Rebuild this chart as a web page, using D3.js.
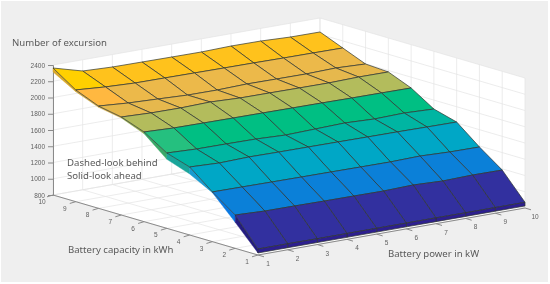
<!DOCTYPE html>
<html>
<head>
<meta charset="utf-8">
<script src="https://cdn.jsdelivr.net/npm/d3@7"></script>
<style>
html, body { margin: 0; padding: 0; background: #fff; }
svg { display: block; filter: blur(0.4px); }
text { font-family: "Noto Sans", sans-serif; }
.axistitle { fill: #5a5a5a; font-size: 9.6px; }
.ticktext { fill: #5f5f5f; font-size: 6.5px; font-family: "Liberation Sans", sans-serif; }
</style>
</head>
<body>
<div id="chart"></div>
<script>
const svgWidth = 550;
const svgHeight = 284;

const powerValues = [1, 2, 3, 4, 5, 6, 7, 8, 9, 10];
const capacityTicks = [1, 2, 3, 4, 5, 6, 7, 8, 9, 10];
const zTicks = [800, 1000, 1200, 1400, 1600, 1800, 2000, 2200, 2400];

// excursions per battery power, one list per battery capacity
const capacityRows = [1, 1, 2, 3, 4, 5, 6, 7, 8, 9, 10];
const zBase = [825, 825, 825, 825, 825, 825, 825, 825, 825, 825];
const zCap1 = [874, 874, 872, 872, 872, 872, 872, 870, 870, 870];
const zCap2 = [1210, 1195, 1193, 1189, 1187, 1184, 1194, 1179, 1188, 1185];
const zCap3 = [1412, 1409, 1406, 1403, 1401, 1398, 1396, 1404, 1390, 1387];
const zCap4 = [1637, 1622, 1632, 1628, 1626, 1624, 1621, 1619, 1615, 1612];
const zCap5 = [1727, 1712, 1710, 1706, 1691, 1701, 1711, 1696, 1705, 1690];
const zCap6 = [1904, 1889, 1886, 1883, 1881, 1878, 1876, 1872, 1870, 1867];
const zCap7 = [2006, 1992, 1989, 1998, 1983, 1981, 1978, 1976, 1984, 1982];
const zCap8 = [2059, 2032, 2017, 2001, 1999, 2009, 2006, 2004, 2013, 1998];
const zCap9 = [2175, 2148, 2132, 2130, 2127, 2124, 2122, 2118, 2116, 2113];
const zCap10 = [2363, 2262, 2247, 2244, 2241, 2239, 2248, 2245, 2230, 2228];
const zRows = [zBase, zCap1, zCap2, zCap3, zCap4, zCap5, zCap6, zCap7, zCap8, zCap9, zCap10];
// lower fold showing under the edge at power 1
const zFold = [825, 825, 1120, 1403, 1551, 1649, 1883, 1994, 2043, 2154, 2314];

const rowColors = ['#2d1f8f', '#32309f', '#0b80d8', '#00a7c6', '#00b5a2', '#00bf83', '#b3bc5c', '#e6b84d', '#ecb94a', '#ffc21c'];
const firstCellColors = ['#2d1f8f', '#32309f', '#0b80d8', '#00a7c6', '#00b5a2', '#25c07f', '#b3bc5c', '#e6b84d', '#ffb840', '#ffd000'];
const foldColors = ['#2d1f8f', '#241c80', '#0a78e0', '#1a9bd0', '#1aa59a', '#3aa868', '#8fa548', '#c9a23f', '#c9a23f', '#d9a92c'];

const svg = d3.select('#chart')
            .append('svg')
            .attr('width', svgWidth)
            .attr('height', svgHeight);

svg.append('rect')
    .attr('x', 1).attr('y', 1)
    .attr('width', 547).attr('height', 281)
    .attr('fill', '#efefef');

// oblique projection, one scale per screen contribution
const xFromPower = d3.scaleLinear().domain([1, 10]).range([258, 525]);
const xFromCap = d3.scaleLinear().domain([1, 10]).range([0, -205]);
const yFromPower = d3.scaleLinear().domain([1, 10]).range([255, 208]);
const yFromCap = d3.scaleLinear().domain([1, 10]).range([0, -60]);
const yFromZ = d3.scaleLinear().domain([800, 2400]).range([0, -130]);

function project(p, c, z) {
    return [xFromPower(p) + xFromCap(c), yFromPower(p) + yFromCap(c) + yFromZ(z)];
}

const line = d3.line();
const closed = pts => line(pts) + 'Z';

// floor and walls
const walls = svg.append('g');
walls.append('path')
    .attr('d', closed([project(1, 1, 800), project(10, 1, 800), project(10, 10, 800), project(1, 10, 800)]))
    .attr('fill', '#fff');
walls.append('path')
    .attr('d', closed([project(1, 10, 800), project(10, 10, 800), project(10, 10, 2400), project(1, 10, 2400)]))
    .attr('fill', '#fff');
walls.append('path')
    .attr('d', closed([project(10, 1, 800), project(10, 10, 800), project(10, 10, 2400), project(10, 1, 2400)]))
    .attr('fill', '#fff');

const gridLines = [];
powerValues.forEach(p => {
    gridLines.push([project(p, 1, 800), project(p, 10, 800), project(p, 10, 2400)]);
});
capacityTicks.forEach(c => {
    gridLines.push([project(1, c, 800), project(10, c, 800), project(10, c, 2400)]);
});
zTicks.forEach(z => {
    gridLines.push([project(1, 10, z), project(10, 10, z), project(10, 1, z)]);
});
walls.selectAll('path.grid').data(gridLines).enter().append('path')
    .attr('class', 'grid')
    .attr('d', d => line(d))
    .attr('fill', 'none')
    .attr('stroke', '#e4e4e4')
    .attr('stroke-width', 0.7);

// axes
const axisColor = '#8a8a8a';
const rulers = svg.append('g');
[[project(1, 1, 800), project(10, 1, 800)], [project(1, 1, 800), project(1, 10, 800)]].forEach(seg => {
    rulers.append('path').attr('d', line(seg)).attr('fill', 'none').attr('stroke', axisColor).attr('stroke-width', 1);
});

const zScale = d3.scaleLinear().domain([800, 2400]).range([project(1, 10, 800)[1], project(1, 10, 2400)[1]]);
const zAxis = svg.append('g')
    .attr('transform', `translate(${project(1, 10, 800)[0]},0)`)
    .call(d3.axisLeft(zScale).tickValues(zTicks).tickSize(5).tickPadding(3).tickFormat(d3.format('d')));
zAxis.select('.domain').attr('stroke', axisColor);
zAxis.selectAll('.tick line').attr('stroke', axisColor);
zAxis.selectAll('.tick text').attr('class', 'ticktext').attr('fill', null).attr('font-size', null).attr('font-family', null);

powerValues.forEach(p => {
    const [x, y] = project(p, 1, 800);
    rulers.append('path').attr('d', line([[x, y], [x + 6, y + 1.8]])).attr('stroke', axisColor).attr('fill', 'none');
    rulers.append('text').attr('class', 'ticktext').attr('x', x + 10).attr('y', y + 11).attr('text-anchor', 'middle').text(p);
});
capacityTicks.forEach(c => {
    const [x, y] = project(1, c, 800);
    rulers.append('path').attr('d', line([[x, y], [x - 6, y + 1.8]])).attr('stroke', axisColor).attr('fill', 'none');
    rulers.append('text').attr('class', 'ticktext').attr('x', x - 11).attr('y', y + 9).attr('text-anchor', 'middle').text(c);
});

// fold goes under the surface
const foldCells = d3.range(capacityRows.length - 2, -1, -1).map(r => ({
    r: r,
    pts: [
        project(1, capacityRows[r], zFold[r]),
        project(1, capacityRows[r + 1], zFold[r + 1]),
        project(1, capacityRows[r + 1], zRows[r + 1][0]),
        project(1, capacityRows[r], zRows[r][0])
    ]
}));
svg.append('g').selectAll('path').data(foldCells).enter().append('path')
    .attr('d', d => closed(d.pts))
    .attr('fill', d => foldColors[d.r])
    .attr('stroke', d => foldColors[d.r])
    .attr('stroke-width', 0.4);

// surface, back to front
const cells = [];
d3.range(capacityRows.length - 2, -1, -1).forEach(r => {
    d3.range(powerValues.length - 2, -1, -1).forEach(i => {
        cells.push({
            r: r,
            i: i,
            pts: [
                project(powerValues[i], capacityRows[r], zRows[r][i]),
                project(powerValues[i + 1], capacityRows[r], zRows[r][i + 1]),
                project(powerValues[i + 1], capacityRows[r + 1], zRows[r + 1][i + 1]),
                project(powerValues[i], capacityRows[r + 1], zRows[r + 1][i])
            ]
        });
    });
});
svg.append('g').selectAll('path').data(cells).enter().append('path')
    .attr('d', d => closed(d.pts))
    .attr('fill', d => d.i === 0 ? firstCellColors[d.r] : rowColors[d.r])
    .attr('stroke', '#2e3530')
    .attr('stroke-width', 0.7)
    .attr('stroke-linejoin', 'round');

// titles
const titles = [
    ['Number of excursion', 12, 46],
    ['Dashed-look behind', 67, 166],
    ['Solid-look ahead', 67, 179],
    ['Battery capacity in kWh', 68, 253],
    ['Battery power in kW', 388, 257]
];
svg.append('g').selectAll('text').data(titles).enter().append('text')
    .attr('class', 'axistitle')
    .attr('x', d => d[1])
    .attr('y', d => d[2])
    .text(d => d[0]);
</script>
</body>
</html>
